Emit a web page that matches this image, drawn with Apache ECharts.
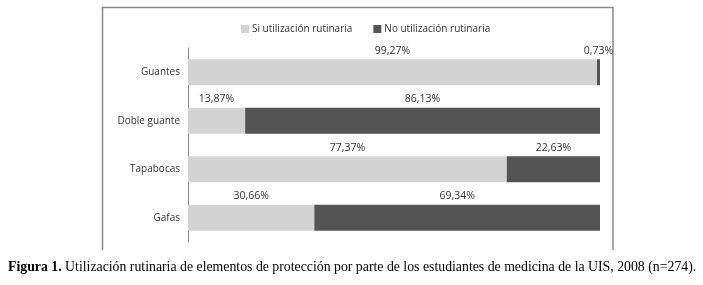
<!DOCTYPE html>
<html>
<head>
<meta charset="utf-8">
<script src="https://cdn.jsdelivr.net/npm/echarts@6/dist/echarts.min.js"></script>
<style>
  html, body { margin: 0; padding: 0; background: #fff; }
  #main { width: 703px; height: 285px; }
</style>
</head>
<body>
<div id="main"></div>
<script>
// datos
var categorias = ['Guantes', 'Doble guante', 'Tapabocas', 'Gafas'];
var siUso = [99.27, 13.87, 77.37, 30.66];
var noUso = [0.73, 86.13, 22.63, 69.34];
var nombres = ['Si utilización rutinaria', 'No utilización rutinaria'];

var chart = echarts.init(document.getElementById('main'));

function etiqueta(p) {
    return p.value.toFixed(2).replace('.', ',') + '%';
}

chart.setOption({
    animation: false,
    legend: {
        top: 19,
        left: 236,
        itemWidth: 8,
        itemHeight: 8,
        itemGap: 21,
        itemStyle: { borderWidth: 0 },
        icon: 'rect',
        textStyle: { fontFamily: 'Open Sans', fontSize: 10, color: '#333', padding: [0, 0, 0, -2] },
        data: nombres
    },
    grid: { left: 188, right: 103, top: 48, bottom: 43 },
    xAxis: { type: 'value', min: 0, max: 100, show: false },
    yAxis: {
        type: 'category',
        inverse: true,
        data: categorias,
        axisLine: { lineStyle: { color: '#888', width: 1 } },
        axisTick: { show: false },
        axisLabel: { fontFamily: 'Open Sans', fontSize: 10, color: '#333', margin: 8 }
    },
    series: [
        {
            name: nombres[0],
            type: 'bar',
            stack: 'total',
            barWidth: 26,
            itemStyle: { color: '#d3d3d3' },
            label: {
                show: true, position: 'top', distance: 3,
                formatter: etiqueta,
                fontFamily: 'Open Sans', fontSize: 10.5, color: '#333'
            },
            data: siUso
        },
        {
            name: nombres[1],
            type: 'bar',
            stack: 'total',
            barWidth: 26,
            itemStyle: { color: '#545454' },
            label: {
                show: true, position: 'top', distance: 3,
                formatter: etiqueta,
                fontFamily: 'Open Sans', fontSize: 10.5, color: '#333'
            },
            data: noUso
        }
    ],
    graphic: [
        // marco del grafico
        { type: 'polyline', shape: { points: [[102.5, 250], [102.5, 7.5], [613, 7.5], [613, 250]] },
          style: { stroke: '#888', fill: null, lineWidth: 1.5 } },
        {
            type: 'text', left: 8, top: 260,
            style: {
                rich: {
                    b: { fontFamily: 'Liberation Serif', fontSize: 13.8, fontWeight: 'bold', fill: '#000' },
                    n: { fontFamily: 'Liberation Serif', fontSize: 13.8, fill: '#000' }
                },
                text: '{b|Figura 1.}{n| Utilización rutinaria de elementos de protección por parte de los estudiantes de medicina de la UIS, 2008 (n=274).}'
            }
        }
    ]
});
</script>
</body>
</html>
